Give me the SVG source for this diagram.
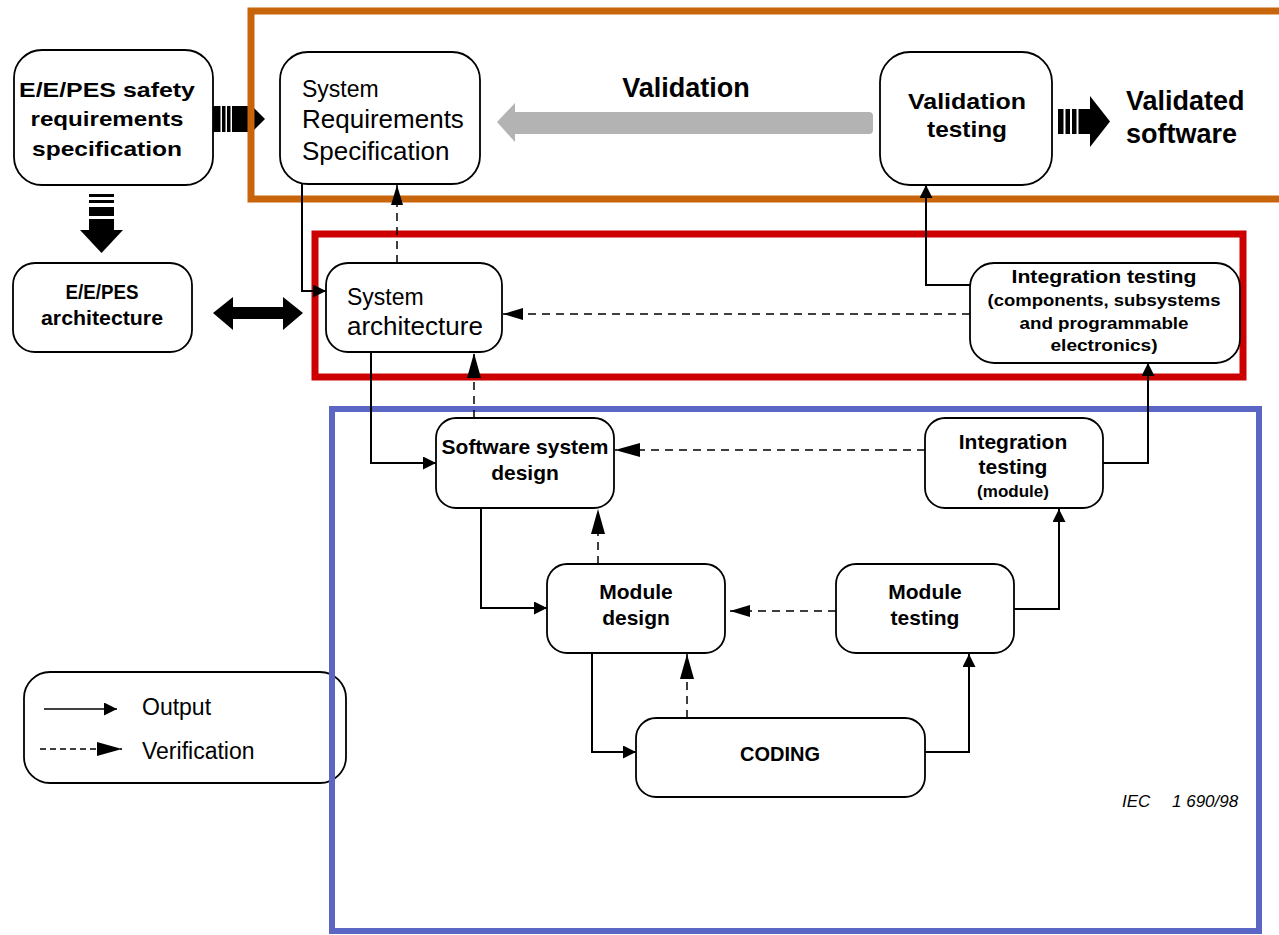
<svg xmlns="http://www.w3.org/2000/svg" width="1279" height="935" viewBox="0 0 1279 935">
<style>
  .box { fill: #ffffff; stroke: #000; stroke-width: 1.8; }
  .t { font-family: "Liberation Sans", Arial, sans-serif; fill: #000; }
  .b { font-weight: bold; }
  .c { text-anchor: middle; }
  .out { fill: none; stroke: #000; stroke-width: 2; }
  .ver { fill: none; stroke: #000; stroke-width: 1.5; stroke-dasharray: 8 6; }
  .frame { fill: none; }
</style>
<defs>
  <marker id="mo" markerUnits="userSpaceOnUse" markerWidth="13" markerHeight="13" refX="13" refY="6.5" orient="auto">
    <path d="M0,0 L13,6.5 L0,13 z" fill="#000" stroke="none"/>
  </marker>
  <marker id="mv" markerUnits="userSpaceOnUse" markerWidth="25" markerHeight="14" refX="25" refY="7" orient="auto">
    <path d="M0,0 L25,7 L0,14 z" fill="#000" stroke="none"/>
  </marker>
  <marker id="mvs" markerUnits="userSpaceOnUse" markerWidth="20" markerHeight="12" refX="20" refY="6" orient="auto">
    <path d="M0,0 L20,6 L0,12 z" fill="#000" stroke="none"/>
  </marker>
</defs>
<rect x="0" y="0" width="1279" height="935" fill="#ffffff"/>

<!-- legend -->
<g id="legend">
  <rect class="box" x="24" y="672" width="322" height="111" rx="26"/>
  <line x1="44" y1="709" x2="117" y2="709" stroke="#000" stroke-width="1.5" marker-end="url(#mo)"/>
  <text class="t" x="142" y="715" font-size="23">Output</text>
  <line x1="40" y1="749" x2="122" y2="749" stroke="#000" stroke-width="1.5" stroke-dasharray="6 4" marker-end="url(#mv)"/>
  <text class="t" x="142" y="759" font-size="23">Verification</text>
</g>

<!-- big block arrows -->
<g id="block-arrows">
  <g id="arrow-safety-to-srs" fill="#000">
    <rect x="213" y="106" width="7.5" height="26"/>
    <rect x="222" y="106" width="3.5" height="26"/>
    <rect x="227" y="106" width="3.5" height="26"/>
    <polygon points="232,106 252,106 265,119 252,132 232,132"/>
  </g>
  <g id="arrow-safety-down" fill="#000">
    <rect x="89" y="194" width="25" height="3"/>
    <rect x="89" y="200" width="25" height="3"/>
    <rect x="89" y="207" width="25" height="9"/>
    <rect x="89" y="219" width="25" height="12"/>
    <polygon points="80,230 123,230 101.5,253"/>
  </g>
  <polygon id="arrow-double" fill="#000" points="213,313 233,297 233,307 283,307 283,297 303,313 283,330 283,319 233,319 233,330"/>
  <path id="arrow-validation" fill="#b3b3b3" d="M497,122 L515,103 L515,112 L869,112 Q873,112 873,116 L873,130 Q873,134 869,134 L515,134 L515,142 Z"/>
  <g id="arrow-validated" fill="#000">
    <rect x="1058" y="109" width="5.5" height="25"/>
    <rect x="1065.5" y="109" width="4.5" height="25"/>
    <rect x="1072" y="109" width="4.5" height="25"/>
    <rect x="1078.5" y="109" width="13" height="25"/>
    <polygon points="1090,96 1110,121.5 1090,147"/>
  </g>
</g>

<!-- highlight frames -->
<g id="frames">
  <rect class="frame" x="251" y="11" width="1034" height="188" stroke="#c8650a" stroke-width="7"/>
  <rect class="frame" x="315" y="234" width="928" height="143" stroke="#cc0000" stroke-width="7"/>
  <rect class="frame" x="332" y="409" width="927" height="522" stroke="#5b66c4" stroke-width="6"/>
</g>

<!-- connectors -->
<g id="connectors">
  <path class="out" d="M302,184 V291 H326" marker-end="url(#mo)"/>
  <path class="ver" d="M397,263 V185" marker-end="url(#mvs)"/>
  <path class="out" d="M371,352 V463 H436" marker-end="url(#mo)"/>
  <path class="ver" d="M474,418 V353" marker-end="url(#mv)"/>
  <path class="out" d="M970,285 H926 V185" marker-end="url(#mo)"/>
  <path class="ver" d="M970,314 H503" marker-end="url(#mvs)"/>
  <path class="out" d="M1103,463 H1148 V363" marker-end="url(#mo)"/>
  <path class="ver" d="M925,450 H615" marker-end="url(#mv)"/>
  <path class="out" d="M481,508 V608 H547" marker-end="url(#mo)"/>
  <path class="ver" d="M598,564 V509" marker-end="url(#mv)"/>
  <path class="out" d="M1014,609 H1059 V509" marker-end="url(#mo)"/>
  <path class="ver" d="M836,611 H730" marker-end="url(#mvs)"/>
  <path class="out" d="M592,653 V752 H636" marker-end="url(#mo)"/>
  <path class="ver" d="M687,718 V654" marker-end="url(#mv)"/>
  <path class="out" d="M925,752 H969 V654" marker-end="url(#mo)"/>
</g>

<!-- nodes -->
<g id="node-safety-req">
  <rect class="box" x="14" y="50" width="199" height="135" rx="28"/>
  <text class="t b c" x="107" y="97" font-size="21" textLength="176" lengthAdjust="spacingAndGlyphs">E/E/PES safety</text>
  <text class="t b c" x="107" y="126" font-size="21" textLength="153" lengthAdjust="spacingAndGlyphs">requirements</text>
  <text class="t b c" x="107" y="156" font-size="21" textLength="150" lengthAdjust="spacingAndGlyphs">specification</text>
</g>
<g id="node-system-req">
  <rect class="box" x="280" y="52" width="200" height="132" rx="28"/>
  <text class="t" x="302" y="97" font-size="23">System</text>
  <text class="t" x="302" y="128" font-size="26">Requirements</text>
  <text class="t" x="302" y="160" font-size="26">Specification</text>
</g>
<g id="node-validation-testing">
  <text class="t b c" x="686" y="97" font-size="27">Validation</text>
  <rect class="box" x="880" y="52" width="172" height="133" rx="30"/>
  <text class="t b c" x="967" y="109" font-size="22" textLength="118" lengthAdjust="spacingAndGlyphs">Validation</text>
  <text class="t b c" x="967" y="137" font-size="22" textLength="80" lengthAdjust="spacingAndGlyphs">testing</text>
</g>
<g id="node-validated-software">
  <text class="t b" x="1126" y="110" font-size="27">Validated</text>
  <text class="t b" x="1126" y="143" font-size="27">software</text>
</g>
<g id="node-eepes-arch">
  <rect class="box" x="13" y="263" width="179" height="89" rx="22"/>
  <text class="t b c" x="102" y="299" font-size="20" textLength="73" lengthAdjust="spacingAndGlyphs">E/E/PES</text>
  <text class="t b c" x="102" y="325" font-size="20" textLength="122" lengthAdjust="spacingAndGlyphs">architecture</text>
</g>
<g id="node-system-arch">
  <rect class="box" x="326" y="263" width="176" height="89" rx="22"/>
  <text class="t" x="347" y="305" font-size="23">System</text>
  <text class="t" x="347" y="335" font-size="26">architecture</text>
</g>
<g id="node-integration-testing">
  <rect class="box" x="970" y="263" width="270" height="100" rx="24"/>
  <text class="t b c" x="1104" y="283" font-size="18" textLength="185" lengthAdjust="spacingAndGlyphs">Integration testing</text>
  <text class="t b c" x="1104" y="306" font-size="16" textLength="233" lengthAdjust="spacingAndGlyphs">(components, subsystems</text>
  <text class="t b c" x="1104" y="329" font-size="16" textLength="169" lengthAdjust="spacingAndGlyphs">and programmable</text>
  <text class="t b c" x="1104" y="351" font-size="16" textLength="107" lengthAdjust="spacingAndGlyphs">electronics)</text>
</g>
<g id="node-sw-system-design">
  <rect class="box" x="436" y="418" width="178" height="90" rx="20"/>
  <text class="t b c" x="525" y="454" font-size="21">Software system</text>
  <text class="t b c" x="525" y="480" font-size="21">design</text>
</g>
<g id="node-integration-module">
  <rect class="box" x="925" y="418" width="178" height="90" rx="20"/>
  <text class="t b c" x="1013" y="449" font-size="21">Integration</text>
  <text class="t b c" x="1013" y="474" font-size="21">testing</text>
  <text class="t b c" x="1013" y="497" font-size="17">(module)</text>
</g>
<g id="node-module-design">
  <rect class="box" x="547" y="564" width="178" height="89" rx="20"/>
  <text class="t b c" x="636" y="599" font-size="21">Module</text>
  <text class="t b c" x="636" y="625" font-size="21">design</text>
</g>
<g id="node-module-testing">
  <rect class="box" x="836" y="564" width="178" height="89" rx="20"/>
  <text class="t b c" x="925" y="599" font-size="21">Module</text>
  <text class="t b c" x="925" y="625" font-size="21">testing</text>
</g>
<g id="node-coding">
  <rect class="box" x="636" y="718" width="289" height="79" rx="20"/>
  <text class="t b c" x="780" y="761" font-size="20">CODING</text>
</g>
<g id="caption">
  <text class="t" x="1122" y="807" font-size="17" font-style="italic">IEC</text>
  <text class="t" x="1172" y="807" font-size="17" font-style="italic">1 690/98</text>
</g>
</svg>
